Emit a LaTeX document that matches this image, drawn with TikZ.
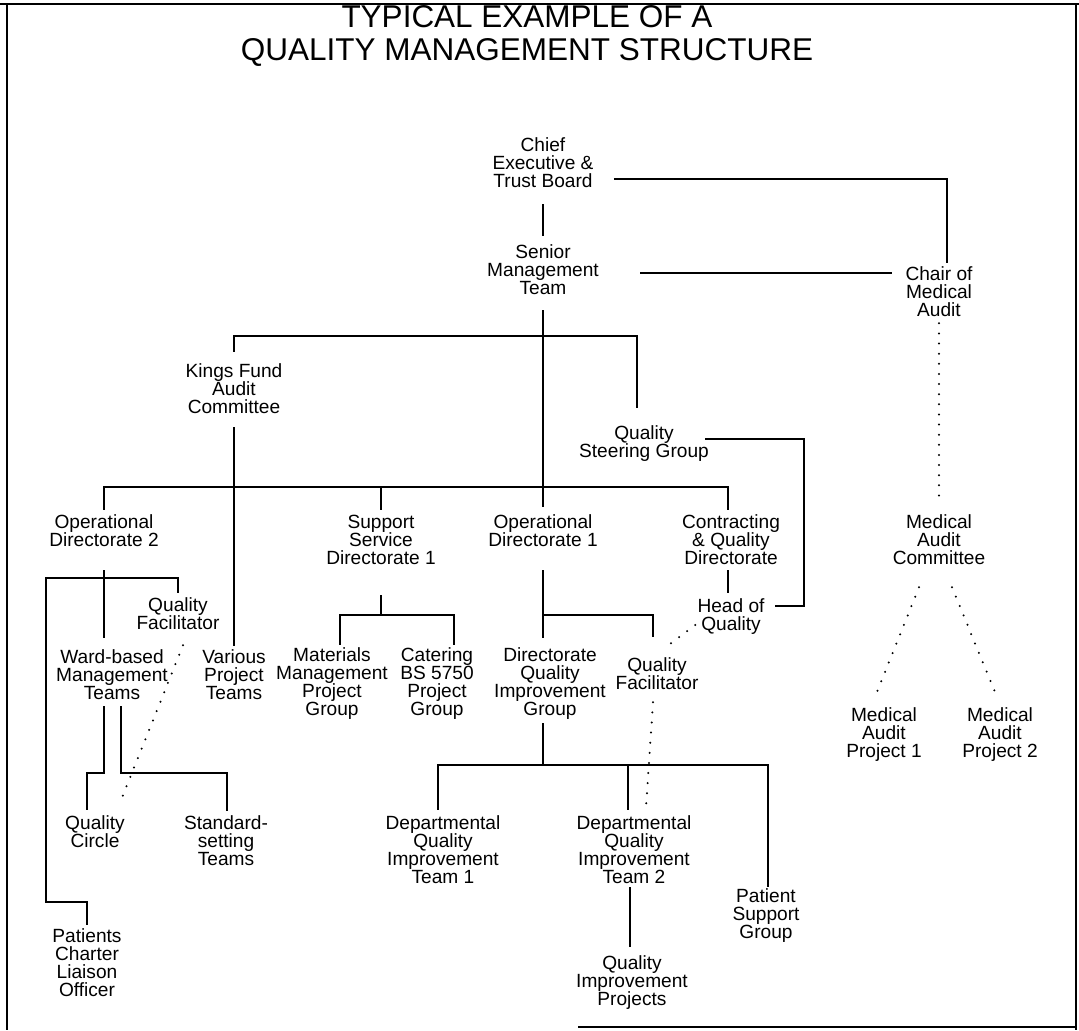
\documentclass[tikz,border=0pt]{standalone}
\usepackage{fontspec}
\setmainfont{Liberation Sans}
\usetikzlibrary{calc}
\newcommand\orgfont{\fontsize{13.6pt}{12.8pt}\selectfont}
\newcommand\headfont{\fontsize{22.4pt}{24pt}\selectfont}
\tikzset{
  orgbox/.style={align=center,inner sep=0pt,font=\orgfont},
  headbox/.style={inner sep=0pt,font=\headfont},
  link/.style={line width=1.5pt},
  dotlink/.style={line width=1.6pt,line cap=round,dash pattern=on 0pt off 7.2pt}
}
\begin{document}
\begin{tikzpicture}[x=0.25mm,y=-0.25mm]
\useasboundingbox (0,0) rectangle (1079,1030);
\draw[line width=2pt] (0,4) -- (1079,4);
\draw[line width=2pt] (7,4) -- (7,1030);
\draw[line width=2pt] (1076,4) -- (1076,1030);
\draw[line width=1pt] (578,1027) -- (1076,1027);
\node[headbox] (titletop) at (527,17) {TYPICAL EXAMPLE OF A};
\node[headbox] (titlebottom) at (527,52) {QUALITY MANAGEMENT STRUCTURE};
\node[orgbox] (chief) at (543,163) {Chief\\Executive \&\\Trust Board};
\node[orgbox] (senior) at (543,270) {Senior\\Management\\Team};
\node[orgbox] (chair) at (939,292) {Chair of\\Medical\\Audit};
\node[orgbox] (kings) at (234,389) {Kings Fund\\Audit\\Committee};
\node[orgbox] (qsg) at (644,444) {Quality\\Steering Group};
\node[orgbox] (opdirtwo) at (104,531) {Operational\\Directorate 2};
\node[orgbox] (support) at (381,540) {Support\\Service\\Directorate 1};
\node[orgbox] (opdirone) at (543,531) {Operational\\Directorate 1};
\node[orgbox] (contracting) at (731,540) {Contracting\\\& Quality\\Directorate};
\node[orgbox] (medcom) at (939,540) {Medical\\Audit\\Committee};
\node[orgbox] (headq) at (731,617) {Head of\\Quality};
\node[orgbox] (qfacone) at (178,614) {Quality\\Facilitator};
\node[orgbox] (ward) at (112,675) {Ward-based\\Management\\Teams};
\node[orgbox] (various) at (234,675) {Various\\Project\\Teams};
\node[orgbox] (materials) at (332,684) {Materials\\Management\\Project\\Group};
\node[orgbox] (catering) at (437,684) {Catering\\BS 5750\\Project\\Group};
\node[orgbox] (dqig) at (550,684) {Directorate\\Quality\\Improvement\\Group};
\node[orgbox] (qfactwo) at (657,674) {Quality\\Facilitator};
\node[orgbox] (mapone) at (884,735) {Medical\\Audit\\Project 1};
\node[orgbox] (maptwo) at (1000,735) {Medical\\Audit\\Project 2};
\node[orgbox] (qcircle) at (95,832) {Quality\\Circle};
\node[orgbox] (stdset) at (226,841) {Standard-\\setting\\Teams};
\node[orgbox] (dqitone) at (443,850) {Departmental\\Quality\\Improvement\\Team 1};
\node[orgbox] (dqittwo) at (634,850) {Departmental\\Quality\\Improvement\\Team 2};
\node[orgbox] (psg) at (766,916) {Patient\\Support\\Group};
\node[orgbox] (patients) at (87,963) {Patients\\Charter\\Liaison\\Officer};
\node[orgbox] (qip) at (632,983) {Quality\\Improvement\\Projects};
\coordinate (kbar) at (543,336);
\coordinate (dbar) at (543,487);
\coordinate (obar) at (104,578);
\coordinate (lbend) at (46,902);
\coordinate (wardl) at (104,773);
\coordinate (wardr) at (121,773);
\coordinate (sbar) at (381,615);
\coordinate (dirbar) at (543,615);
\coordinate (qbar) at (543,765);
\coordinate (qsgturn) at (804,520);
\draw[link] ([shift={(0,16)}]chief.south) -- ([shift={(0,-9)}]senior.north);
\draw[link] ([shift={(20,16)}]chief.east) -| ([shift={(8,-4)}]chair.north);
\draw[link] ([shift={(41,3)}]senior.east) -- ([shift={(-13,-19)}]chair.west);
\draw[link] ([shift={(0,15)}]senior.south) -- ([shift={(0,-8)}]opdirone.north);
\draw[link] ([shift={(0,-12)}]kings.north) |- (kbar) -| ([shift={(-7,-18)}]qsg.north);
\draw[link] ([shift={(0,13)}]kings.south) -- ([shift={(0,-4)}]various.north);
\draw[link] ([shift={(0,-5)}]opdirtwo.north) |- (dbar) -| ([shift={(-3,-5)}]contracting.north);
\draw[link] (support.north |- dbar) -- ([shift={(0,-5)}]support.north);
\draw[link] ([shift={(-4,-5)}]qsg.east) -| (qsgturn) |- ([shift={(10,-11)}]headq.east);
\draw[link] ([shift={(-3,5)}]contracting.south) -- ([shift={(-3,-6)}]headq.north);
\draw[dotlink] ([shift={(0,6)}]chair.south) -- ([shift={(0,-13)}]medcom.north);
\draw[dotlink] ([shift={(-20,22)}]medcom.south) -- ([shift={(-9,-11)}]mapone.north);
\draw[dotlink] ([shift={(13,22)}]medcom.south) -- ([shift={(-3,-11)}]maptwo.north);
\draw[link] ([shift={(0,23)}]opdirtwo.south) -- ([shift={(-8,-12)}]ward.north);
\draw[link] ([shift={(0,-5)}]qfacone.north) |- (obar) -| (lbend) -| ([shift={(0,-4)}]patients.north);
\draw[link] ([shift={(-8,6)}]ward.south) -- (wardl) -| ([shift={(-8,-6)}]qcircle.north);
\draw[link] ([shift={(9,6)}]ward.south) -- (wardr) -| ([shift={(1,-5)}]stdset.north);
\draw[dotlink] ([shift={(5,15)}]qfacone.south) -- ([shift={(25,-13)}]qcircle.north);
\draw[link] ([shift={(0,30)}]support.south) -- (sbar);
\draw[link] ([shift={(8,-3)}]materials.north) |- (sbar) -| ([shift={(17,-3)}]catering.north);
\draw[link] ([shift={(0,23)}]opdirone.south) -- ([shift={(-7,-10)}]dqig.north);
\draw[link] (dirbar) -| ([shift={(-4,-21)}]qfactwo.north);
\draw[dotlink] ([shift={(-2,8)}]headq.west) -- ([shift={(12,-13)}]qfactwo.north);
\draw[dotlink] ([shift={(-4,12)}]qfactwo.south) -- ([shift={(12,-8)}]dqittwo.north);
\draw[link] ([shift={(-7,3)}]dqig.south) -- (qbar);
\draw[link] ([shift={(-5,-6)}]dqitone.north) |- (qbar) -| ([shift={(2,-2)}]psg.north);
\draw[link] ($(dqittwo.north |- qbar)+(-6,0)$) -- ([shift={(-6,-6)}]dqittwo.north);
\draw[link] ([shift={(-4,3)}]dqittwo.south) -- ([shift={(-2,-9)}]qip.north);
\end{tikzpicture}
\end{document}
